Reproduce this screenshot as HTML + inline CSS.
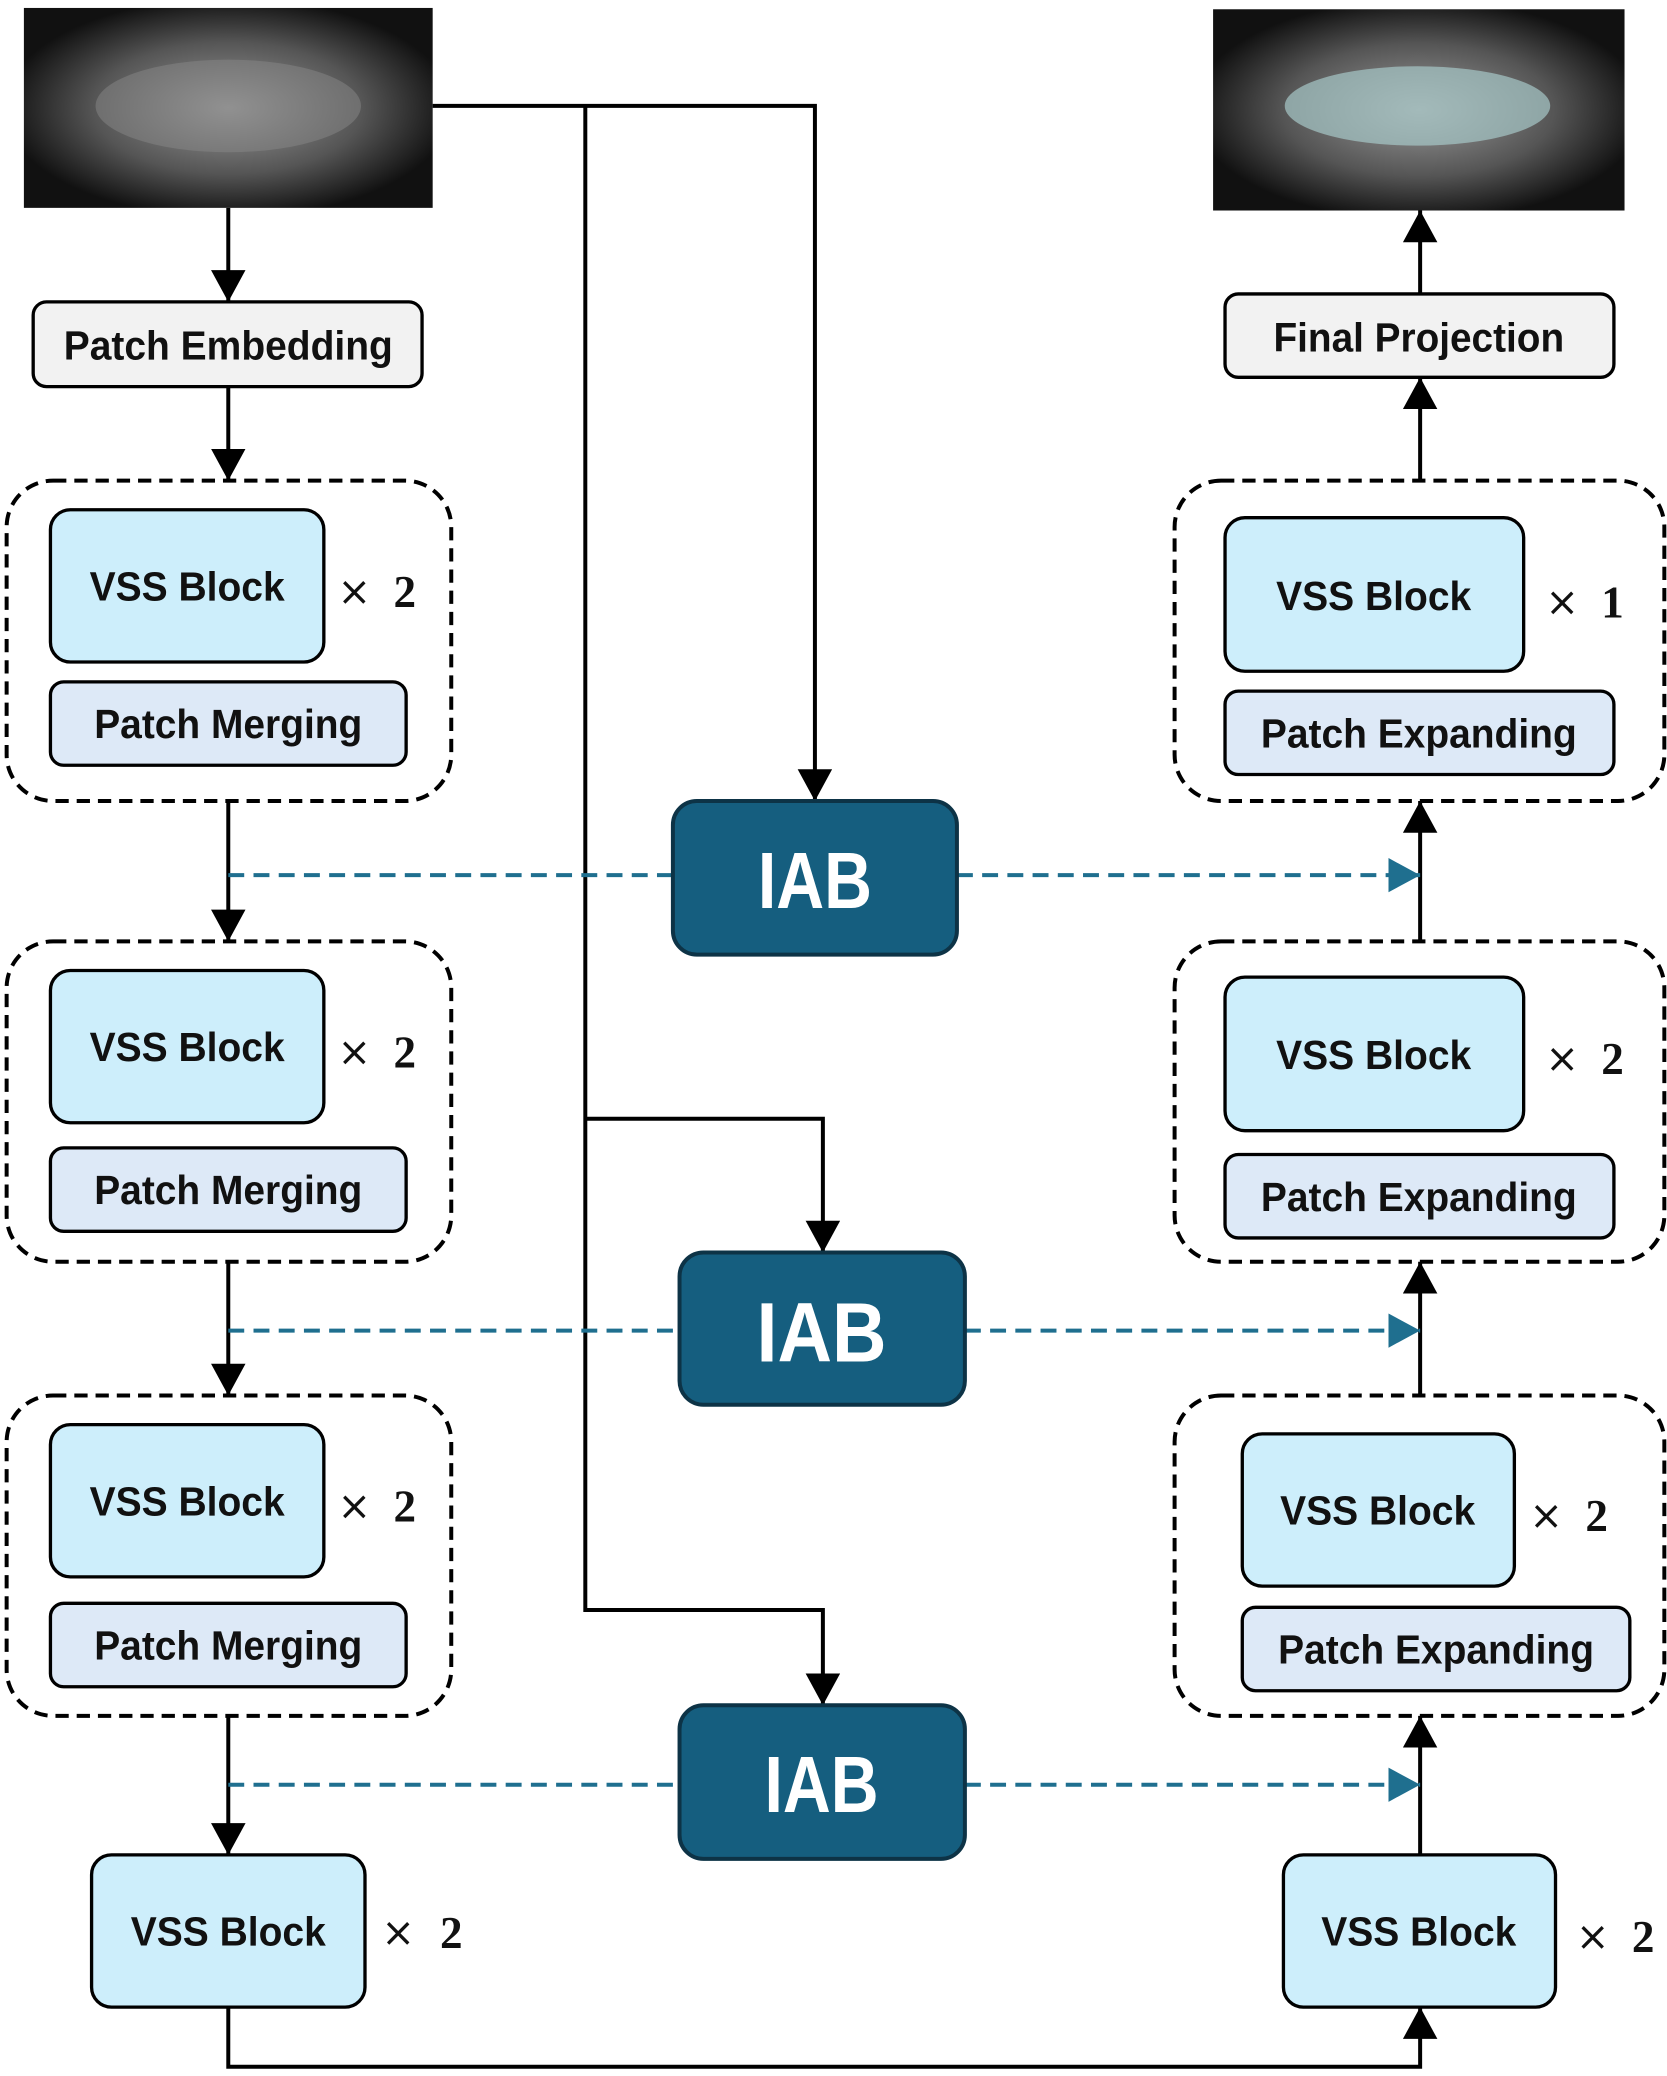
<!DOCTYPE html>
<html><head><meta charset="utf-8"><style>html,body{margin:0;padding:0;background:#fff}svg{display:block}</style></head><body>
<svg width="1667" height="2076" viewBox="0 0 1256 1568" preserveAspectRatio="none" xmlns="http://www.w3.org/2000/svg">
<defs>
<marker id="a" markerWidth="24" markerHeight="26" refX="24" refY="13" orient="auto" markerUnits="userSpaceOnUse"><path d="M0,0 L24,13 L0,26 z" fill="#000"/></marker>
<marker id="ab" markerWidth="24" markerHeight="26" refX="24" refY="13" orient="auto" markerUnits="userSpaceOnUse"><path d="M0,0 L24,13 L0,26 z" fill="#1f6f8f"/></marker>
<radialGradient id="xr" cx="50%" cy="50%" r="55%"><stop offset="0" stop-color="#9a9a9a"/><stop offset="0.6" stop-color="#555"/><stop offset="1" stop-color="#111"/></radialGradient>
</defs>
<style>
text{font-family:"Liberation Sans",sans-serif;font-weight:bold;fill:#111;text-anchor:middle;dominant-baseline:central}
.ln{stroke:#000;stroke-width:3;fill:none}
.bl{stroke:#1f6f8f;stroke-width:3;stroke-dasharray:12 7;fill:none}
.grp{fill:none;stroke:#000;stroke-width:3;stroke-dasharray:10 6}
.vss{fill:#cdeefb;stroke:#000;stroke-width:2.5}
.pm{fill:#dde9f7;stroke:#000;stroke-width:2.5}
.iab{fill:#155e7f;stroke:#0d3346;stroke-width:3}
.x{font-family:"Liberation Serif",serif;font-size:34px}
.m{font-family:"DejaVu Sans",sans-serif;font-weight:normal;font-size:30px}
</style>
<!-- images -->
<rect x="18" y="6" width="308" height="151" fill="url(#xr)"/>
<ellipse cx="172" cy="80" rx="100" ry="35" fill="#888" opacity="0.5"/>
<rect x="914" y="7" width="310" height="152" fill="url(#xr)"/>
<ellipse cx="1068" cy="80" rx="100" ry="30" fill="#a6c8c8" opacity="0.7"/>
<!-- left column -->
<path class="ln" d="M172,157 V228" marker-end="url(#a)"/>
<rect x="25" y="228" width="293" height="64" rx="10" fill="#f2f2f2" stroke="#000" stroke-width="2.5"/>
<text x="172" y="261" font-size="31" textLength="248" lengthAdjust="spacingAndGlyphs">Patch Embedding</text>
<path class="ln" d="M172,292 V363" marker-end="url(#a)"/>
<g>
<rect class="grp" x="5" y="363" width="335" height="242" rx="35"/>
<rect class="vss" x="38" y="385" width="206" height="115" rx="15"/><text x="141" y="443" font-size="31" textLength="147" lengthAdjust="spacingAndGlyphs">VSS Block</text>
<text class="m" x="267" y="447">×</text><text class="x" x="305" y="447">2</text>
<rect class="pm" x="38" y="515" width="268" height="63" rx="10"/><text x="172" y="547" font-size="31" textLength="202" lengthAdjust="spacingAndGlyphs">Patch Merging</text>
</g>
<g transform="translate(0,348)">
<rect class="grp" x="5" y="363" width="335" height="242" rx="35"/>
<rect class="vss" x="38" y="385" width="206" height="115" rx="15"/><text x="141" y="443" font-size="31" textLength="147" lengthAdjust="spacingAndGlyphs">VSS Block</text>
<text class="m" x="267" y="447">×</text><text class="x" x="305" y="447">2</text>
<rect class="pm" x="38" y="519" width="268" height="63" rx="10"/><text x="172" y="551" font-size="31" textLength="202" lengthAdjust="spacingAndGlyphs">Patch Merging</text>
</g>
<g transform="translate(0,691)">
<rect class="grp" x="5" y="363" width="335" height="242" rx="35"/>
<rect class="vss" x="38" y="385" width="206" height="115" rx="15"/><text x="141" y="443" font-size="31" textLength="147" lengthAdjust="spacingAndGlyphs">VSS Block</text>
<text class="m" x="267" y="447">×</text><text class="x" x="305" y="447">2</text>
<rect class="pm" x="38" y="520" width="268" height="63" rx="10"/><text x="172" y="552" font-size="31" textLength="202" lengthAdjust="spacingAndGlyphs">Patch Merging</text>
</g>
<path class="ln" d="M172,605 V711" marker-end="url(#a)"/>
<path class="ln" d="M172,953 V1054" marker-end="url(#a)"/>
<path class="ln" d="M172,1296 V1401" marker-end="url(#a)"/>
<rect class="vss" x="69" y="1401" width="206" height="115" rx="15"/><text x="172" y="1459" font-size="31" textLength="147" lengthAdjust="spacingAndGlyphs">VSS Block</text>
<text class="m" x="300" y="1460">×</text><text class="x" x="340" y="1460">2</text>
<path class="ln" d="M172,1516 V1561 H1070 V1516" marker-end="url(#a)"/>
<!-- right column -->
<path class="ln" d="M1070,222 V159" marker-end="url(#a)"/>
<rect x="923" y="222" width="293" height="63" rx="10" fill="#f2f2f2" stroke="#000" stroke-width="2.5"/>
<text x="1069" y="255" font-size="31" textLength="219" lengthAdjust="spacingAndGlyphs">Final Projection</text>
<path class="ln" d="M1070,362 V285" marker-end="url(#a)"/>
<rect class="grp" x="885" y="363" width="369" height="242" rx="35"/>
<rect class="vss" x="923" y="391" width="225" height="116" rx="15"/><text x="1035" y="450" font-size="31" textLength="147" lengthAdjust="spacingAndGlyphs">VSS Block</text>
<text class="m" x="1177" y="455">×</text><text class="x" x="1215" y="455">1</text>
<rect class="pm" x="923" y="522" width="293" height="63" rx="10"/><text x="1069" y="554" font-size="31" textLength="238" lengthAdjust="spacingAndGlyphs">Patch Expanding</text>
<rect class="grp" x="885" y="711" width="369" height="242" rx="35"/>
<rect class="vss" x="923" y="738" width="225" height="116" rx="15"/><text x="1035" y="797" font-size="31" textLength="147" lengthAdjust="spacingAndGlyphs">VSS Block</text>
<text class="m" x="1177" y="800">×</text><text class="x" x="1215" y="800">2</text>
<rect class="pm" x="923" y="872" width="293" height="63" rx="10"/><text x="1069" y="904" font-size="31" textLength="238" lengthAdjust="spacingAndGlyphs">Patch Expanding</text>
<rect class="grp" x="885" y="1054" width="369" height="242" rx="35"/>
<rect class="vss" x="936" y="1083" width="205" height="115" rx="15"/><text x="1038" y="1141" font-size="31" textLength="147" lengthAdjust="spacingAndGlyphs">VSS Block</text>
<text class="m" x="1165" y="1145">×</text><text class="x" x="1203" y="1145">2</text>
<rect class="pm" x="936" y="1214" width="292" height="63" rx="10"/><text x="1082" y="1246" font-size="31" textLength="238" lengthAdjust="spacingAndGlyphs">Patch Expanding</text>
<path class="ln" d="M1070,711 V605" marker-end="url(#a)"/>
<path class="ln" d="M1070,1054 V953" marker-end="url(#a)"/>
<path class="ln" d="M1070,1401 V1296" marker-end="url(#a)"/>
<rect class="vss" x="967" y="1401" width="205" height="115" rx="15"/><text x="1069" y="1459" font-size="31" textLength="147" lengthAdjust="spacingAndGlyphs">VSS Block</text>
<text class="m" x="1200" y="1463">×</text><text class="x" x="1238" y="1463">2</text>
<!-- skip connections -->
<path class="ln" d="M326,80 H614 V605" marker-end="url(#a)"/>
<path class="ln" d="M441,80 V1216 H620 V1288" marker-end="url(#a)"/>
<path class="ln" d="M441,845 H620 V946" marker-end="url(#a)"/>
<!-- dashed blue -->
<path class="bl" d="M172,661 H507"/><path class="bl" d="M721,661 H1070" marker-end="url(#ab)"/>
<path class="bl" d="M172,1005 H512"/><path class="bl" d="M727,1005 H1070" marker-end="url(#ab)"/>
<path class="bl" d="M172,1348 H512"/><path class="bl" d="M727,1348 H1070" marker-end="url(#ab)"/>
<!-- IAB -->
<rect class="iab" x="507" y="605" width="214" height="116" rx="18"/><text x="614" y="665" font-size="60" textLength="86" lengthAdjust="spacingAndGlyphs" style="fill:#fff">IAB</text>
<rect class="iab" x="512" y="946" width="215" height="115" rx="18"/><text x="619" y="1006" font-size="64" textLength="98" lengthAdjust="spacingAndGlyphs" style="fill:#fff">IAB</text>
<rect class="iab" x="512" y="1288" width="215" height="116" rx="18"/><text x="619" y="1348" font-size="60" textLength="86" lengthAdjust="spacingAndGlyphs" style="fill:#fff">IAB</text>
</svg>
</body></html>
